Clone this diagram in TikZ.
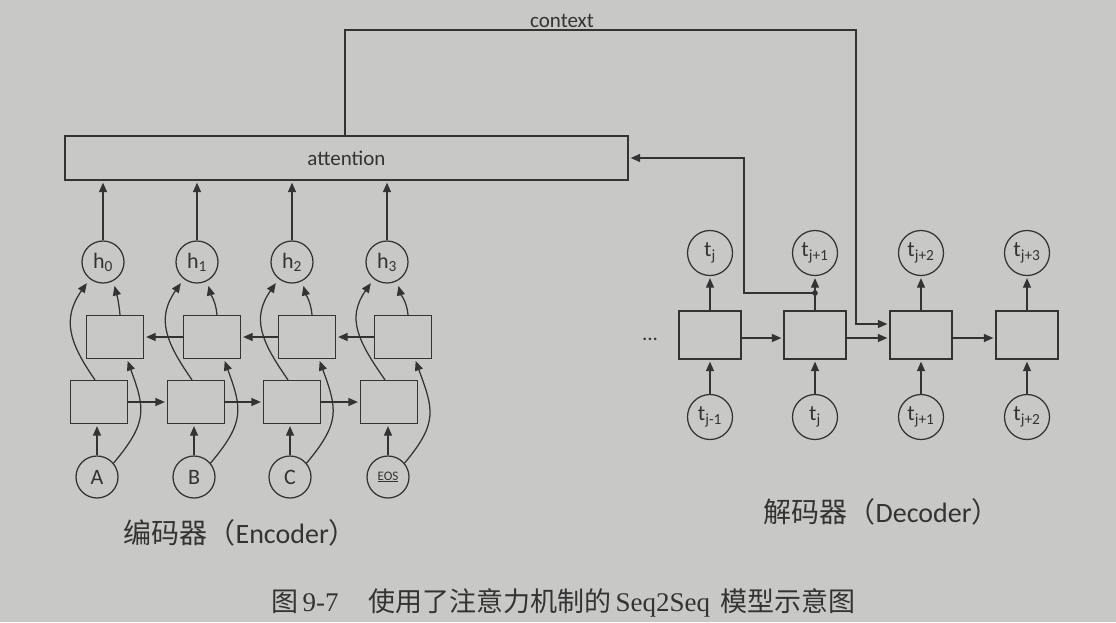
\documentclass[tikz,border=0pt]{standalone}
\usepackage{fontspec}
\setmainfont{Carlito}
\newfontfamily\cjk{Noto Sans CJK SC}
\newfontfamily\capserif{Liberation Serif}
\usetikzlibrary{arrows.meta}
\definecolor{paper}{HTML}{C8C8C6}
\definecolor{ink}{HTML}{333333}
\newcommand\lblfont{\fontsize{21}{25}\selectfont}
\newcommand\tokfont{\fontsize{22}{26}\selectfont}
\newcommand\eosfont{\fontsize{13}{15}\selectfont}
\newcommand\titlefont{\fontsize{28}{32}\selectfont}
\newcommand\capfont{\fontsize{27}{31}\selectfont}

\begin{document}
\begin{tikzpicture}[x=1pt,y=-1pt,color=ink,line width=1.25pt,
  arr/.style={-{Triangle[length=9.5pt,width=8pt]},shorten >=2pt},
  cell/.style={draw,minimum width=57pt,minimum height=43pt,inner sep=0pt},
  dcell/.style={draw,minimum width=62pt,minimum height=48pt,inner sep=0pt},
  tok/.style={draw,circle,minimum size=42pt,inner sep=0pt,font=\tokfont},
  dtok/.style={tok,minimum size=45pt}]

% page
\fill[paper] (0,0) rectangle (1116,622);
\useasboundingbox (0,0) rectangle (1116,622);

% attention layer
\node[draw,minimum width=563pt,minimum height=44pt,inner sep=0pt,font=\lblfont] (att) at (346.5,158) {attention};

% encoder: forward cells, backward cells, outputs h, inputs
\foreach \i/\xa/\xb/\xh/\xi/\hn/\lab in {1/99/115/103/97/0/A,2/196/212/197/194/1/B,3/292/307/292/290/2/C,4/389/403/387/388/3/{\eosfont\underline{EOS}}}{
  \node[cell] (ef\i) at (\xa,402) {};
  \node[cell] (eb\i) at (\xb,337) {};
  \node[tok] (h\i) at (\xh,262) {h\textsubscript{\hn}};
  \node[tok] (in\i) at (\xi,477) {\lab};
  \draw[arr] (in\i) -- (in\i |- ef\i.south);
  \draw[arr] (in\i.40) to[out=50,in=-70,looseness=1.3] ([xshift=12pt]eb\i.south);
  \draw[arr,shorten >=5pt] ([xshift=-4pt]ef\i.north) to[out=125,in=-125,looseness=1.2] (h\i.232);
  \draw[arr,shorten >=5pt] ([xshift=5pt]eb\i.north) to[out=95,in=-75] (h\i.-62);
  \draw[arr] (h\i) -- (h\i |- att.south);
}
\foreach \a/\b in {1/2,2/3,3/4}{
  \draw[arr] (ef\a) -- (ef\b);
  \draw[arr] (eb\b) -- (eb\a);
}

% decoder
\foreach \i/\x/\o/\n in {1/710/j/j-1,2/815/j+1/j,3/921/j+2/j+1,4/1027/j+3/j+2}{
  \node[dcell] (db\i) at (\x,335) {};
  \node[dtok] (dout\i) at (\x,253) {t\textsubscript{\o}};
  \node[dtok] (din\i) at (\x,417) {t\textsubscript{\n}};
  \draw[arr] (din\i) -- (db\i);
  \draw[arr] (db\i) -- (dout\i);
}
\foreach \a/\b in {1/2,2/3,3/4}
  \draw[arr] ([yshift=-3pt]db\a.east) -- ([yshift=-3pt]db\b.west);
\node[font=\lblfont] (dots) at (650,339) {...};

% decoder state fed back to attention
\coordinate (fb) at (815,293);
\coordinate (fbc) at (744,293);
\fill (fb) circle (2.8pt);
\draw[arr] (fb) -- (fbc) |- (att.east);

% context vector into the decoder
\coordinate (ctxa) at (345,30);
\coordinate (ctxb) at (856,30);
\draw[arr] (att.north -| ctxa) -- (ctxa) -- (ctxb) |- ([yshift=11pt]db3.west);
\node[font=\lblfont,anchor=south,inner sep=2pt] (ctxlab) at (562,30) {context};

% titles and caption
\node[anchor=west,inner sep=0pt,font=\titlefont] (enc) at (123,533) {{\cjk 编码器（}Encoder{\cjk ）}};
\node[anchor=west,inner sep=0pt,font=\titlefont] (dec) at (763,512) {{\cjk 解码器（}Decoder{\cjk ）}};
\node[anchor=west,inner sep=0pt,font=\capfont] (cap) at (271,603) {{\cjk 图}\hspace{4pt}{\capserif 9-7}\hspace{30pt}{\cjk 使用了注意力机制的}\hspace{4pt}{\capserif Seq2Seq}\hspace{10pt}{\cjk 模型示意图}};
\end{tikzpicture}
\end{document}
